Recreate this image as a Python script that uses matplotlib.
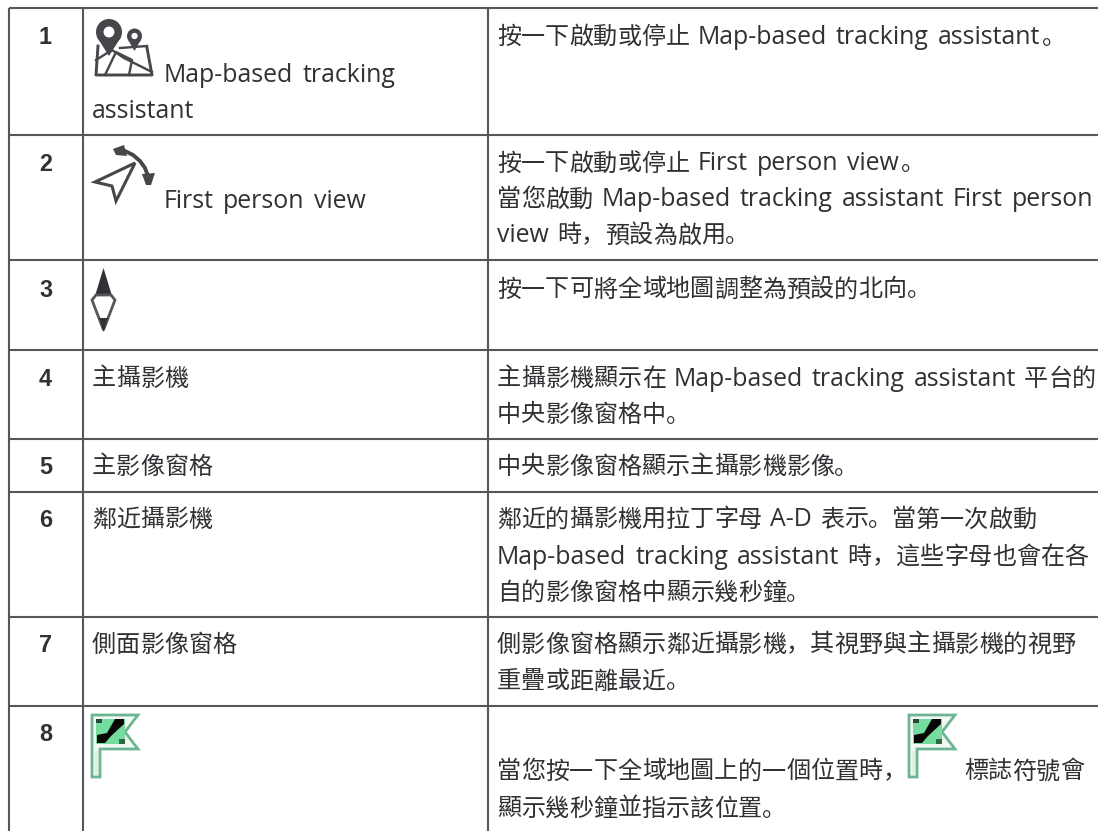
import re
import matplotlib
matplotlib.use('Agg')
import matplotlib.pyplot as plt
from matplotlib.patches import Polygon, Circle, Rectangle

plt.rcParams['font.family'] = ['Open Sans', 'Noto Sans CJK SC']

W, H = 1108, 831

# table grid, in pixels of the page
col_x = [9, 83, 488]
row_y = [8, 135, 260, 350, 439, 492, 617, 706]

row_numbers = ['1', '2', '3', '4', '5', '6', '7', '8']
number_y = [35, 162, 288, 377, 465, 518, 643, 732]

# (x, text centre y, text) for the second column
col2_lines = [
    (164, 73, 'Map-based tracking'),
    (92, 109, 'assistant'),
    (164, 199, 'First person view'),
    (92, 377, '主攝影機'),
    (92, 465, '主影像窗格'),
    (92, 518, '鄰近攝影機'),
    (92, 643, '側面影像窗格'),
]

# third column
col3_lines = [
    (35, '按一下啟動或停止 Map-based tracking assistant。'),
    (162, '按一下啟動或停止 First person view。'),
    (198, '當您啟動 Map-based tracking assistant First person'),
    (234, 'view 時，預設為啟用。'),
    (288, '按一下可將全域地圖調整為預設的北向。'),
    (377, '主攝影機顯示在 Map-based tracking assistant 平台的'),
    (413, '中央影像窗格中。'),
    (465, '中央影像窗格顯示主攝影機影像。'),
    (518, '鄰近的攝影機用拉丁字母 A-D 表示。當第一次啟動'),
    (555, 'Map-based tracking assistant 時，這些字母也會在各'),
    (591, '自的影像窗格中顯示幾秒鐘。'),
    (643, '側影像窗格顯示鄰近攝影機，其視野與主攝影機的視野'),
    (680, '重疊或距離最近。'),
    (770, '當您按一下全域地圖上的一個位置時，'),
    (807, '顯示幾秒鐘並指示該位置。'),
]

TEXT = '#2f3134'
ICON = '#45474a'
LINE = '#55575a'
CJK_PX = 24.1
LATIN_PX = 24.9
LEAD_SPACE = 8
TRAIL_SPACE = 6
WORD_GAP = 9


def mixed_text(ax, renderer, x, y, s):
    # latin and cjk runs have different sizes in the original, so place them one by one
    for run in re.findall(r'[\x00-\x7f]+|[^\x00-\x7f]+', s):
        if run.isascii():
            if run[0] == ' ':
                x += LEAD_SPACE
            words = run.split()
            for i, word in enumerate(words):
                t = ax.text(x, y + 8.5, word, fontsize=LATIN_PX * .72, color=TEXT, ha='left', va='baseline')
                x += t.get_window_extent(renderer).width
                x += WORD_GAP if i < len(words) - 1 else 2
            if run[-1] == ' ' and words:
                x += TRAIL_SPACE
        else:
            for ch in run:
                ax.text(x, y + 8.5, ch, fontsize=CJK_PX * .72, color=TEXT, ha='left', va='baseline',
                        family='Noto Sans CJK SC')
                x += CJK_PX


def poly(ax, pts, **kw):
    ax.add_patch(Polygon(pts, closed=True, **kw))


def pin(ax, cx, cy, r, tip):
    # map pin, round head with hole
    poly(ax, [(cx - r * .95, cy + r * .35), (cx, tip), (cx + r * .95, cy + r * .35)], fc=ICON, ec='none')
    ax.add_patch(Circle((cx, cy), r, fc=ICON, ec='none'))
    ax.add_patch(Circle((cx, cy), r * .42, fc='white', ec='none'))


def map_icon(ax):
    lw = 1.7
    ax.plot([98, 96, 152, 147], [46, 75, 75, 48], color=ICON, lw=lw + .4)
    ax.plot([96, 112, 124, 152], [60, 50, 58, 72], color=ICON, lw=lw)
    ax.plot([105, 116, 132, 129], [75, 52, 60, 75], color=ICON, lw=lw)
    ax.plot([120, 147], [48, 46], color=ICON, lw=lw)
    pin(ax, 109, 32, 13, 56)
    pin(ax, 134.5, 36, 7.5, 51)


def person_icon(ax):
    poly(ax, [(95, 182), (135, 163), (116, 201), (112, 186)], fc='white', ec=ICON, lw=2.2, joinstyle='miter')
    arc_x = [118, 125, 133, 140, 145, 148]
    arc_y = [150, 151, 155, 161, 168, 176]
    ax.plot(arc_x, arc_y, color=ICON, lw=2.8)
    poly(ax, [(113, 149), (124, 145), (127, 156), (116, 155)], fc=ICON, ec='none')
    poly(ax, [(142, 174), (155, 173), (151, 185), (146, 185)], fc=ICON, ec='none')


def compass_icon(ax):
    poly(ax, [(103.5, 268), (112, 296), (95, 296)], fc='#303235', ec='none')
    poly(ax, [(92, 300), (96, 295), (111, 295), (115, 300), (103.5, 330)], fc='white', ec='#55575a', lw=2, joinstyle='miter')
    poly(ax, [(99, 318), (108, 318), (103.5, 332)], fc='#303235', ec='none')


def flag(ax, x, y):
    g = '#6db592'
    outline = [(x + 1, y + 1), (x + 47, y + 1), (x + 34, y + 18), (x + 47, y + 35), (x + 9, y + 35), (x + 9, y + 63), (x + 1, y + 63)]
    poly(ax, outline, fc='#f2f8f4', ec=g, lw=2, joinstyle='miter')
    ax.add_patch(Rectangle((x + 5, y + 5), 29, 25, fc='#74dc9c', ec='none'))
    poly(ax, [(x + 24, y + 5), (x + 33, y + 5), (x + 33, y + 10), (x + 20, y + 22), (x + 14, y + 29), (x + 6, y + 29), (x + 6, y + 21), (x + 16, y + 19)], fc='#060606', ec='none')
    ax.add_patch(Rectangle((x + 5, y + 5), 6, 4, fc='#2a4a38', ec='none'))
    ax.add_patch(Rectangle((x + 28, y + 25), 6, 5, fc='#2f6a48', ec='none'))
    ax.add_patch(Rectangle((x + 4, y + 37), 3, 24, fc='#dff0e6', ec='none'))


def main():
    fig = plt.figure(figsize=(W / 100, H / 100), dpi=100, facecolor='white')
    ax = fig.add_axes([0, 0, 1, 1])
    ax.set_xlim(0, W)
    ax.set_ylim(H, 0)
    ax.axis('off')
    renderer = fig.canvas.get_renderer()

    for x in col_x:
        ax.plot([x, x], [row_y[0], H], color=LINE, lw=1.5, solid_capstyle='butt')
    for y in row_y:
        ax.plot([col_x[0], 1098], [y, y], color=LINE, lw=1.5, solid_capstyle='butt')

    for n, y in zip(row_numbers, number_y):
        ax.text(45.5, y, n, family='Liberation Sans', weight='bold', fontsize=16.8,
                color=TEXT, ha='center', va='center_baseline')

    for x, y, s in col2_lines:
        mixed_text(ax, renderer, x, y, s)
    for y, s in col3_lines:
        mixed_text(ax, renderer, 497, y, s)
    mixed_text(ax, renderer, 964, 770, '標誌符號會')

    map_icon(ax)
    person_icon(ax)
    compass_icon(ax)
    flag(ax, 91, 714)
    flag(ax, 908, 714)

    fig.savefig('out.png', dpi=100)


if __name__ == "__main__":
    main()
